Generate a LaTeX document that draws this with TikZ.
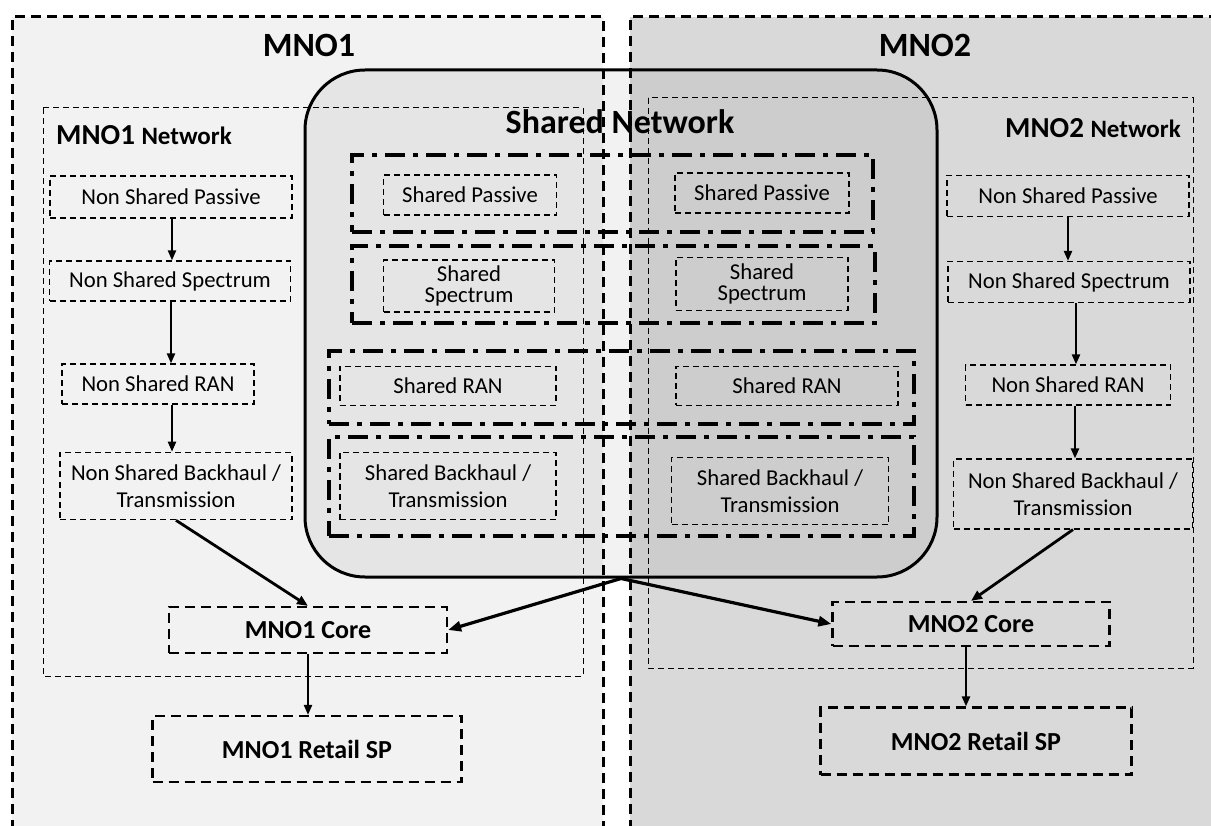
\documentclass[tikz,border=0pt]{standalone}
\usepackage{fontspec}
\setmainfont{Carlito}
\usetikzlibrary{arrows.meta}
\definecolor{mnoone}{HTML}{F2F2F2}
\definecolor{mnotwo}{HTML}{D9D9D9}
\begin{document}
\begin{tikzpicture}[x=1pt,y=-1pt,
  outer/.style={line width=3pt, dash pattern=on 10pt off 6pt},
  netbox/.style={draw, line width=1pt, dash pattern=on 6pt off 4pt},
  sbox/.style={draw, line width=1.2pt, dash pattern=on 6pt off 4pt, inner sep=0pt, align=center, font=\fontsize{22.7}{27}\selectfont},
  twoline/.style={font=\fontsize{22.7}{21}\selectfont},
  cbox/.style={draw, line width=2.2pt, dash pattern=on 10pt off 6pt, inner sep=0pt, font=\bfseries\fontsize{26}{28}\selectfont},
  grp/.style={draw, line width=4.5pt, dash pattern=on 20pt off 8pt on 5pt off 8pt, inner sep=0pt},
  ttl/.style={font=\bfseries\fontsize{34}{38}\selectfont, inner sep=0pt},
  arr/.style={-{Triangle[length=10pt,width=8pt]}, line width=2.2pt},
  darr/.style={-{Triangle[length=11pt,width=9pt]}, line width=2.8pt},
  bigarr/.style={-{Triangle[length=13pt,width=10pt]}, line width=3.2pt}]
\clip (0,0) rectangle (1211,826);
\fill[white] (0,0) rectangle (1211,826);
% operator areas
\fill[mnoone] (12,17) rectangle (603,830);
\draw[outer] (12,830) -- (12,17) -- (603,17) -- (603,830);
\fill[mnotwo] (630,17) rectangle (1220,830);
\draw[outer] (630,830) -- (630,17) -- (1220,17);
\node[ttl] (t1) at (309,45) {MNO1};
\node[ttl] (t2) at (925,45) {MNO2};
% shared network
\node[draw, line width=3pt, rounded corners=60pt, fill=black, fill opacity=0.05,
  minimum width=632pt, minimum height=507pt, inner sep=0pt] (shared) at (621,323.5) {};
\node[ttl] (st) at (620,122) {Shared Network};
% operator networks
\draw[netbox] (43,108) rectangle (583,676);
\draw[netbox] (648,98) rectangle (1193,668);
\node[anchor=west, inner sep=0pt] (n1) at (56,135) {\bfseries\fontsize{29}{32}\selectfont MNO1 \fontsize{25}{32}\selectfont Network};
\node[anchor=east, inner sep=0pt] (n2) at (1181,128) {\bfseries\fontsize{29}{32}\selectfont MNO2 \fontsize{25}{32}\selectfont Network};
% shared groups
\node[grp, minimum width=521pt, minimum height=77pt] (g1) at (612.5,193.5) {};
\node[grp, minimum width=523pt, minimum height=77pt] (g2) at (613.5,284.5) {};
\node[grp, minimum width=585pt, minimum height=73pt] (g3) at (621.5,387.5) {};
\node[grp, minimum width=585pt, minimum height=99pt] (g4) at (621.5,486.5) {};
% shared boxes
\node[sbox, minimum width=173pt, minimum height=40pt] (sp1) at (470,195) {Shared Passive};
\node[sbox, minimum width=174pt, minimum height=40pt] (sp2) at (762,193) {Shared Passive};
\node[sbox, twoline, minimum width=171pt, minimum height=52pt] (ss1) at (469,286) {Shared\\Spectrum};
\node[sbox, twoline, minimum width=172pt, minimum height=53pt] (ss2) at (762,284) {Shared\\Spectrum};
\node[sbox, minimum width=216pt, minimum height=39pt] (sr1) at (448,386) {Shared RAN};
\node[sbox, minimum width=222pt, minimum height=39pt] (sr2) at (787,386) {Shared RAN};
\node[sbox, minimum width=216pt, minimum height=67pt] (sb1) at (448,486) {Shared Backhaul /\\Transmission};
\node[sbox, minimum width=217pt, minimum height=67pt] (sb2) at (780,491) {Shared Backhaul /\\Transmission};
% MNO1 column
\node[sbox, minimum width=242pt, minimum height=42pt] (p1) at (171,197) {Non Shared Passive};
\node[sbox, minimum width=241pt, minimum height=40pt] (s1) at (170,281) {Non Shared Spectrum};
\node[sbox, minimum width=192pt, minimum height=40pt] (r1) at (158,384) {Non Shared RAN};
\node[sbox, line width=1.6pt, minimum width=232pt, minimum height=67pt] (b1) at (176,486) {Non Shared Backhaul /\\Transmission};
\node[cbox, minimum width=278pt, minimum height=46pt] (c1) at (308,630) {MNO1 Core};
\node[cbox, minimum width=309pt, minimum height=66pt] (rs1) at (307,749) {MNO1 Retail SP};
% MNO2 column
\node[sbox, minimum width=242pt, minimum height=41pt] (p2) at (1068,196) {Non Shared Passive};
\node[sbox, minimum width=242pt, minimum height=41pt] (s2) at (1069,282) {Non Shared Spectrum};
\node[sbox, minimum width=205pt, minimum height=40pt] (r2) at (1068,385) {Non Shared RAN};
\node[sbox, minimum width=239pt, minimum height=70pt] (b2) at (1073,494) {Non Shared Backhaul /\\Transmission};
\node[cbox, minimum width=277pt, minimum height=44pt] (c2) at (971,624) {MNO2 Core};
\node[cbox, minimum width=311pt, minimum height=67pt] (rs2) at (976,741) {MNO2 Retail SP};
% connectors MNO1
\draw[arr] ([xshift=1pt]p1.south) -- ([xshift=1pt]p1.south |- s1.north);
\draw[arr] ([xshift=1pt]s1.south) -- ([xshift=1pt]s1.south |- r1.north);
\draw[arr] ([xshift=14pt]r1.south) -- ([xshift=14pt]r1.south |- b1.north);
\draw[darr] (b1.south) -- (c1.north);
\draw[arr] (c1.south) -- (c1.south |- rs1.north);
% connectors MNO2
\draw[arr] (p2.south) -- (p2.south |- s2.north);
\draw[arr] ([xshift=7pt]s2.south) -- ([xshift=7pt]s2.south |- r2.north);
\draw[arr] ([xshift=7pt]r2.south) -- ([xshift=7pt]r2.south |- b2.north);
\draw[darr] (b2.south) -- (c2.north);
\draw[arr] ([xshift=-5pt]c2.south) -- ([xshift=-5pt]c2.south |- rs2.north);
% shared to cores
\draw[bigarr] (shared.south) -- (c1.east);
\draw[bigarr] (shared.south) -- (c2.west);
\end{tikzpicture}
\end{document}
